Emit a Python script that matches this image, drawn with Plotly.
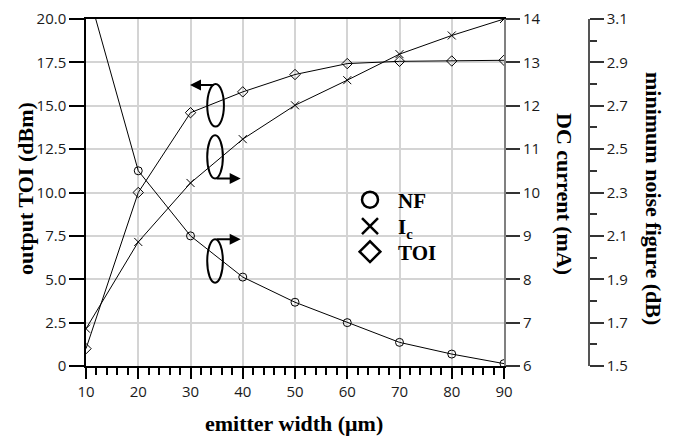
import plotly.graph_objects as go

# ---- data ----
emitter_width = [10, 20, 30, 40, 50, 60, 70, 80, 90]
toi_dbm = [1.0, 10.0, 14.6, 15.8, 16.8, 17.43, 17.56, 17.58, 17.62]
ic_ma = [6.86, 8.86, 10.22, 11.23, 12.01, 12.59, 13.19, 13.62, 14.0]
nf_db = [3.26, 2.40, 2.10, 1.91, 1.794, 1.70, 1.609, 1.555, 1.511]

x_ticks = [10, 20, 30, 40, 50, 60, 70, 80, 90]
toi_ticks = [0, 2.5, 5.0, 7.5, 10.0, 12.5, 15.0, 17.5, 20.0]
toi_ticktext = ["0", "2.5", "5.0", "7.5", "10.0", "12.5", "15.0", "17.5", "20.0"]
ic_ticks = [6, 7, 8, 9, 10, 11, 12, 13, 14]
nf_ticks = [1.5, 1.7, 1.9, 2.1, 2.3, 2.5, 2.7, 2.9, 3.1]
nf_ticktext = ["1.5", "1.7", "1.9", "2.1", "2.3", "2.5", "2.7", "2.9", "3.1"]

TICKFONT = dict(family="Open Sans", size=15, color="#1a1a1a")
TITLEFONT = dict(family="Liberation Serif", size=22, color="black")
LEGFONT = dict(family="Liberation Serif", size=21, color="black")

# page offset (body margin) compensation: figure content placed 8px up/left
OFF = 8
L, T = 86 - OFF, 19 - OFF
PW = 532   # paper width in px (plot x from 86 to 618 on screen)
PH = 347   # paper height in px (19..366 on screen)


def px_x(sx):
    return (sx - 86) / PW


def px_y(sy):
    return (366 - sy) / PH


fig = go.Figure()

fig.add_trace(go.Scatter(x=emitter_width, y=toi_dbm, mode="lines+markers", yaxis="y",
                         line=dict(color="black", width=1),
                         marker=dict(symbol="diamond-open", size=8, color="black", line=dict(width=1)),
                         showlegend=False))
fig.add_trace(go.Scatter(x=emitter_width, y=ic_ma, mode="lines+markers", yaxis="y2",
                         line=dict(color="black", width=1),
                         marker=dict(symbol="x-thin-open", size=8, color="black", line=dict(width=1, color="black")),
                         showlegend=False))
fig.add_trace(go.Scatter(x=emitter_width, y=nf_db, mode="lines+markers", yaxis="y3",
                         line=dict(color="black", width=1),
                         marker=dict(symbol="circle-open", size=8, color="black", line=dict(width=1)),
                         showlegend=False))

# legend entries (markers only), one legend box per entry so spacing matches
legend_items = [("<b>NF</b>", "circle-open", "legend", 200),
                ("<b>I<sub>c</sub></b>", "x-thin-open", "legend2", 226.5),
                ("<b>TOI</b>", "diamond-open", "legend3", 252)]
legend_layout = {}
for name, sym, leg, cy in legend_items:
    fig.add_trace(go.Scatter(x=[None], y=[None], mode="markers", name=name, legend=leg,
                             marker=dict(symbol=sym, size=16, color="black",
                                         line=dict(width=2.5, color="black"))))
    legend_layout[leg] = dict(x=px_x(342), y=px_y(cy), xanchor="left", yanchor="middle",
                              bgcolor="rgba(0,0,0,0)", font=LEGFONT, itemsizing="trace", itemwidth=46)

# decorative loops with arrows
loops = [
    dict(x0=33.2, x1=36.4, y0=13.8, y1=16.25, tail=(34.8, 16.2), tip=(29.9, 16.2)),
    dict(x0=33.2, x1=36.2, y0=10.8, y1=13.3, tail=(34.7, 10.8), tip=(39.6, 10.8)),
    dict(x0=33.2, x1=36.2, y0=4.8, y1=7.3, tail=(34.7, 7.3), tip=(39.6, 7.3)),
]
for lp in loops:
    fig.add_shape(type="circle", xref="x", yref="y", x0=lp["x0"], x1=lp["x1"], y0=lp["y0"], y1=lp["y1"],
                  line=dict(color="black", width=2))
    fig.add_annotation(x=lp["tip"][0], y=lp["tip"][1], ax=lp["tail"][0], ay=lp["tail"][1],
                       xref="x", yref="y", axref="x", ayref="y", text="", showarrow=True,
                       arrowhead=2, arrowsize=1.1, arrowwidth=2, arrowcolor="black")

# axis titles
fig.add_annotation(text="<b>output TOI (dBm)</b>", xref="paper", yref="paper", x=px_x(25), y=px_y(189),
                   xanchor="center", yanchor="middle", textangle=-90, showarrow=False, font=TITLEFONT)
fig.add_annotation(text="<b>DC current (mA)</b>", xref="paper", yref="paper", x=px_x(565), y=px_y(194),
                   xanchor="center", yanchor="middle", textangle=90, showarrow=False, font=TITLEFONT)
fig.add_annotation(text="<b>minimum noise figure (dB)</b>", xref="paper", yref="paper", x=px_x(653), y=px_y(198),
                   xanchor="center", yanchor="middle", textangle=90, showarrow=False, font=TITLEFONT)
fig.add_annotation(text="<b>emitter width (μm)</b>", xref="paper", yref="paper", x=px_x(294), y=px_y(423),
                   xanchor="center", yanchor="middle", showarrow=False, font=TITLEFONT)

fig.update_layout(
    width=678 - OFF, height=439 - OFF,
    margin=dict(l=L, r=60, t=T, b=73, autoexpand=False),
    paper_bgcolor="white", plot_bgcolor="white",
    xaxis=dict(domain=[0, 418 / PW], range=[10, 90], tickvals=x_ticks, ticks="outside", ticklen=11,
               tickcolor="black", tickwidth=1.5, showline=True, linecolor="black", linewidth=1.5, mirror=True,
               showgrid=True, gridcolor="#d4d4d4", gridwidth=1.5, zeroline=False, tickfont=TICKFONT,
               minor=dict(dtick=2, tick0=10, ticks="outside", ticklen=7, tickcolor="black", tickwidth=1.5, showgrid=False)),
    yaxis=dict(range=[0, 20], tickvals=toi_ticks, ticktext=toi_ticktext, ticks="outside", ticklen=15,
               tickcolor="black", tickwidth=1.5, showline=True, linecolor="black", linewidth=1.5,
               showgrid=True, gridcolor="#d4d4d4", gridwidth=1.5, zeroline=False, tickfont=TICKFONT),
    yaxis2=dict(range=[6, 14], tickvals=ic_ticks, overlaying="y", side="right", anchor="x", ticks="outside",
                ticklen=14, tickcolor="#333333", tickwidth=1.5, showline=True, linecolor="#808080", linewidth=2,
                showgrid=False, zeroline=False, tickfont=TICKFONT),
    yaxis3=dict(range=[1.5, 3.1], tickvals=nf_ticks, ticktext=nf_ticktext, overlaying="y", side="right",
                anchor="free", position=503 / PW, ticks="outside", ticklen=14, tickcolor="#333333", tickwidth=1.5,
                showline=True, linecolor="#555555", linewidth=1.5, showgrid=False, zeroline=False, tickfont=TICKFONT,
                minor=dict(dtick=0.1, tick0=1.5, ticks="outside", ticklen=7, tickcolor="#333333", tickwidth=1.5)),
    showlegend=True,
    **legend_layout,
)

fig.write_html("out.html")
